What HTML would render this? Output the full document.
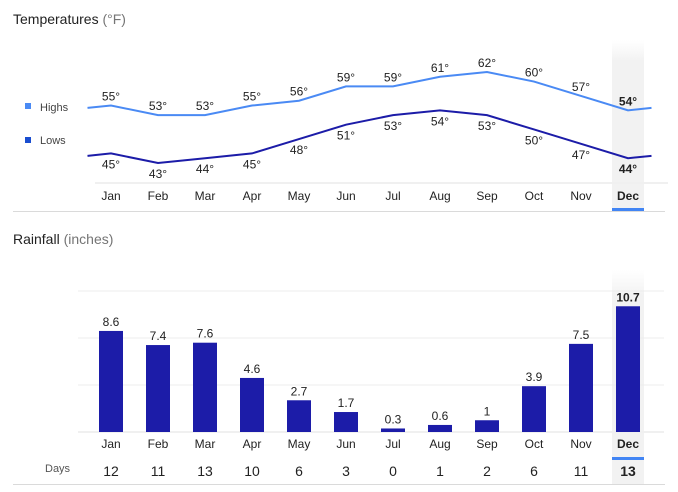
<!DOCTYPE html>
<html><head><meta charset="utf-8"><style>
body{margin:0;background:#fff;font-family:"Liberation Sans",Arial,sans-serif;}
svg{display:block}
</style></head><body>
<svg width="678" height="492" viewBox="0 0 678 492">
<defs>
<linearGradient id="hl" x1="0" y1="0" x2="0" y2="1"><stop offset="0" stop-color="#f4f4f4" stop-opacity="0"/><stop offset="0.12" stop-color="#f2f2f2"/><stop offset="1" stop-color="#f2f2f2"/></linearGradient>
</defs>
<text x="13" y="24" font-size="14" fill="#222">Temperatures <tspan fill="#757575">(°F)</tspan></text>
<rect x="612" y="40" width="32" height="171" fill="url(#hl)"/>
<rect x="612" y="208" width="32" height="3" fill="#4285f4"/>
<rect x="25" y="103" width="6" height="6" fill="#4a8af4"/>
<text x="40" y="111" font-size="11" fill="#444">Highs</text>
<rect x="25" y="137" width="6" height="6" fill="#1a4ed0"/>
<text x="40" y="144" font-size="11" fill="#444">Lows</text>
<line x1="95" y1="183" x2="668" y2="183" stroke="#f0f0f0" stroke-width="2"/>
<line x1="13" y1="211.5" x2="665" y2="211.5" stroke="#dadada"/>
<g id="temp"></g>
<text x="13" y="244" font-size="14" fill="#222">Rainfall <tspan fill="#757575">(inches)</tspan></text>
<rect x="612" y="270" width="32" height="214" fill="url(#hl)"/>
<rect x="612" y="457" width="32" height="3" fill="#4285f4"/>
<g id="rain"></g>
<text x="45" y="472" font-size="11" fill="#555">Days</text>
<line x1="13" y1="484.5" x2="665" y2="484.5" stroke="#dadada"/>
</svg>
<script>
const months=["Jan","Feb","Mar","Apr","May","Jun","Jul","Aug","Sep","Oct","Nov","Dec"];
const highs=[55,53,53,55,56,59,59,61,62,60,57,54];
const lows=[45,43,44,45,48,51,53,54,53,50,47,44];
const rain=[8.6,7.4,7.6,4.6,2.7,1.7,0.3,0.6,1,3.9,7.5,10.7];
const rainLabels=["8.6","7.4","7.6","4.6","2.7","1.7","0.3","0.6","1","3.9","7.5","10.7"];
const days=[12,11,13,10,6,3,0,1,2,6,11,13];
const rainTicks=[0,4,8,12];

const NS="http://www.w3.org/2000/svg";
const xc=i=>111+i*47;
const ty=v=>72+(62-v)*4.79;
const ry=v=>432-v*11.75;
function mk(tag,attrs,parent,text){const e=document.createElementNS(NS,tag);for(const k in attrs)e.setAttribute(k,attrs[k]);if(text!==undefined)e.textContent=text;parent.appendChild(e);return e;}
const T=document.getElementById('temp'),R=document.getElementById('rain');
const n=months.length;
function linePts(arr){
  const first=(arr[0]+arr[n-1])/2;
  let p=[[xc(0)-23.5,ty(first)]];
  arr.forEach((v,i)=>p.push([xc(i),ty(v)]));
  p.push([xc(n-1)+23.5,ty(first)]);
  return p.map(q=>q.join(',')).join(' ');
}
let hl=mk('polyline',{points:linePts(highs),fill:'none',stroke:'#4a8af4','stroke-width':2},T);


let ll=mk('polyline',{points:linePts(lows),fill:'none',stroke:'#1c1ca8','stroke-width':2},T);


months.forEach((m,i)=>{
  const dec=i===n-1;
  let a=mk('text',{x:xc(i),y:ty(highs[i])-5,'font-size':12,'text-anchor':'middle',fill:'#222','font-weight':dec?'bold':'normal'},T,highs[i]+'°');
  
  
  let b=mk('text',{x:xc(i),y:ty(lows[i])+15,'font-size':12,'text-anchor':'middle',fill:'#222','font-weight':dec?'bold':'normal'},T,lows[i]+'°');
  
  
  let c=mk('text',{x:xc(i),y:200,'font-size':12,'text-anchor':'middle',fill:'#222','font-weight':dec?'bold':'normal'},T,m);
  
  
});
rainTicks.forEach(t=>{
  let g=mk('line',{x1:78,x2:664,y1:ry(t),y2:ry(t),stroke:t===0?'#f0f0f0':'#ececec','stroke-width':t===0?2:1},R);
  
  
});
months.forEach((m,i)=>{
  const dec=i===n-1;
  let bar=mk('rect',{x:xc(i)-12,y:ry(rain[i]),width:24,height:ry(0)-ry(rain[i]),fill:'#1c1ca8'},R);
  
  
  let v=mk('text',{x:xc(i),y:ry(rain[i])-5,'font-size':12,'text-anchor':'middle',fill:'#222','font-weight':dec?'bold':'normal'},R,rainLabels[i]);
  
  
  let c=mk('text',{x:xc(i),y:448,'font-size':12,'text-anchor':'middle',fill:'#222','font-weight':dec?'bold':'normal'},R,m);
  
  
  let d=mk('text',{x:xc(i),y:476,'font-size':14,'text-anchor':'middle',fill:'#222','font-weight':dec?'bold':'normal'},R,days[i]);
  
  
});
</script>
</body></html>
